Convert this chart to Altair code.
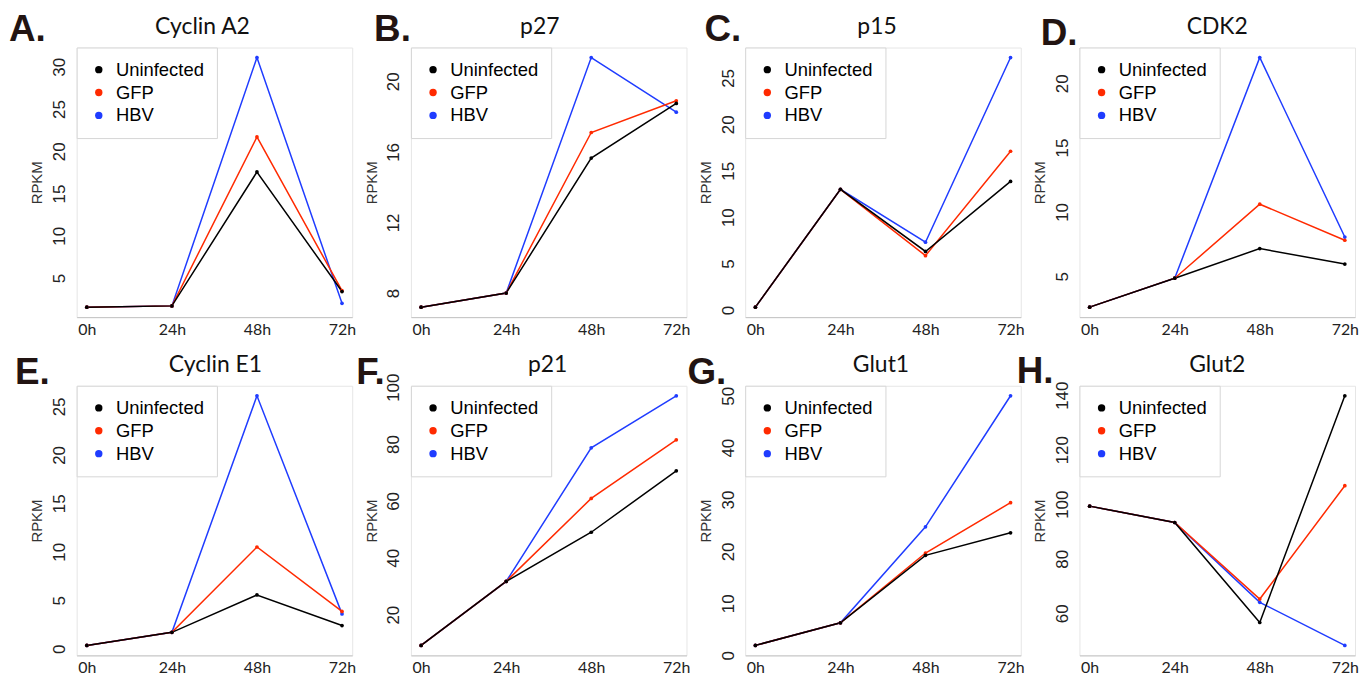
import altair as alt
import pandas as pd

# ---------------- data ----------------
times = [0, 24, 48, 72]
series = ["Uninfected", "GFP", "HBV"]
colors = ["#000000", "#ff2a00", "#1f3cff"]

letters = ["A.", "B.", "C.", "D.", "E.", "F.", "G.", "H."]
genes = ["Cyclin A2", "p27", "p15", "CDK2", "Cyclin E1", "p21", "Glut1", "Glut2"]

cyclin_a2_uninfected = [1.55, 1.7, 17.55, 3.4]
cyclin_a2_gfp = [1.55, 1.7, 21.7, 3.5]
cyclin_a2_hbv = [1.55, 1.7, 31.1, 2.0]

p27_uninfected = [7.2, 8.0, 15.65, 18.75]
p27_gfp = [7.2, 8.0, 17.1, 18.9]
p27_hbv = [7.2, 8.0, 21.35, 18.25]

p15_uninfected = [0.3, 13.0, 6.3, 13.85]
p15_gfp = [0.3, 13.0, 5.85, 17.1]
p15_hbv = [0.3, 13.0, 7.3, 27.2]

cdk2_uninfected = [2.6, 4.85, 7.15, 5.95]
cdk2_gfp = [2.6, 4.85, 10.6, 7.8]
cdk2_hbv = [2.6, 4.85, 22.0, 8.05]

cyclin_e1_uninfected = [0.35, 1.7, 5.55, 2.4]
cyclin_e1_gfp = [0.35, 1.7, 10.5, 3.85]
cyclin_e1_hbv = [0.35, 1.7, 26.1, 3.6]

p21_uninfected = [9.2, 31.7, 49.0, 70.6]
p21_gfp = [9.2, 31.7, 60.9, 81.5]
p21_hbv = [9.2, 31.7, 78.7, 97.0]

glut1_uninfected = [1.9, 6.25, 19.25, 23.6]
glut1_gfp = [1.9, 6.25, 19.7, 29.4]
glut1_hbv = [1.9, 6.25, 24.75, 50.0]

glut2_uninfected = [99.3, 93.3, 56.6, 139.8]
glut2_gfp = [99.3, 93.3, 65.2, 106.8]
glut2_hbv = [99.3, 93.3, 64.0, 48.2]

y_ticks = [
    [5, 10, 15, 20, 25, 30],
    [8, 12, 16, 20],
    [0, 5, 10, 15, 20, 25],
    [5, 10, 15, 20],
    [0, 5, 10, 15, 20, 25],
    [20, 40, 60, 80, 100],
    [0, 10, 20, 30, 40, 50],
    [60, 80, 100, 120, 140],
]

panel_values = [
    (cyclin_a2_uninfected, cyclin_a2_gfp, cyclin_a2_hbv),
    (p27_uninfected, p27_gfp, p27_hbv),
    (p15_uninfected, p15_gfp, p15_hbv),
    (cdk2_uninfected, cdk2_gfp, cdk2_hbv),
    (cyclin_e1_uninfected, cyclin_e1_gfp, cyclin_e1_hbv),
    (p21_uninfected, p21_gfp, p21_hbv),
    (glut1_uninfected, glut1_gfp, glut1_hbv),
    (glut2_uninfected, glut2_gfp, glut2_hbv),
]

# ---------------- layout (not data) ----------------
W, H = 277, 271
letter_dx = [-68, -37, -41, -39, -62, -55, -58, -63]
letter_dy = [-7, -7, -7, -3, -2, -2, -2, -3]
title_dx = [-12, -9, -6, 0, 1, -1, -2, 0]

x_dom = [-0.04 * 72, 72 * 1.04]


def panel(i):
    un, gfp, hbv = panel_values[i]
    rows = []
    # HBV first so Uninfected ends up drawn on top
    for name, vals in (("HBV", hbv), ("GFP", gfp), ("Uninfected", un)):
        for t, v in zip(times, vals):
            rows.append({"Time": t, "RPKM": v, "Series": name})
    df = pd.DataFrame(rows)
    allv = list(un) + list(gfp) + list(hbv)
    lo, hi = min(allv), max(allv)
    pad = 0.04 * (hi - lo)
    y_dom = [lo - pad, hi + pad]

    x_enc = alt.X(
        "Time:Q",
        scale=alt.Scale(domain=x_dom, nice=False, zero=False),
        axis=alt.Axis(
            values=times, labelExpr="datum.value + 'h'", title=None,
            ticks=False, grid=False, domainColor="#c4c4c4",
            labelFont="Lato", labelFontSize=16, labelColor="#222222",
            labelPadding=4, labelFlush=False,
        ),
    )
    y_enc = alt.Y(
        "RPKM:Q",
        scale=alt.Scale(domain=y_dom, nice=False, zero=False),
        axis=alt.Axis(
            values=y_ticks[i], title="RPKM", ticks=False, grid=False,
            domain=False, labelAngle=270, labelAlign="center",
            labelBaseline="bottom", labelFont="Liberation Sans",
            labelFontSize=17, labelColor="#222222", labelPadding=8,
            labelOverlap=False, titleFont="Liberation Sans",
            titleFontSize=15, titleFontWeight="normal",
            titleColor="#333333", titlePadding=6,
        ),
    )
    leg = alt.Legend(
        orient="top-left", offset=0, title=None, padding=13,
        fillColor="white", strokeColor="#d6d6d6",
        labelFont="Liberation Sans", labelFontSize=18.5,
        labelColor="black", symbolSize=55, symbolType="circle",
        symbolStrokeWidth=0, rowPadding=4, labelOffset=8,
    )
    base = alt.Chart(df)
    lines = base.mark_line(strokeWidth=1.5).encode(
        x=x_enc, y=y_enc,
        stroke=alt.Stroke("Series:N", scale=alt.Scale(domain=series, range=colors), legend=None),
    )
    pts = base.mark_point(filled=True, size=14, opacity=1).encode(
        x=x_enc, y=y_enc,
        color=alt.Color("Series:N", scale=alt.Scale(domain=series, range=colors), legend=leg),
    )
    tdf = pd.DataFrame({"letter": [letters[i]], "gene": [genes[i]]})
    tbase = alt.Chart(tdf)
    letter = tbase.mark_text(
        font="Liberation Sans", fontSize=37, fontWeight="bold",
        color="#221412", align="left", baseline="alphabetic",
    ).encode(x=alt.value(letter_dx[i]), y=alt.value(letter_dy[i]), text="letter:N")
    title = tbase.mark_text(
        font="Lato", fontSize=23, color="#111111", align="center",
        baseline="alphabetic",
    ).encode(x=alt.value(W / 2 + title_dx[i]), y=alt.value(-14), text="gene:N")
    return alt.layer(lines, pts, letter, title).properties(width=W, height=H)


chart = alt.concat(
    *[panel(i) for i in range(8)], columns=4,
    spacing={"row": 69, "column": 59}, bounds="flush", padding=0,
).resolve_legend(color="independent").configure_view(stroke="#e6e6e6")

chart.save("out.html", embed_options={"renderer": "svg", "actions": False})
